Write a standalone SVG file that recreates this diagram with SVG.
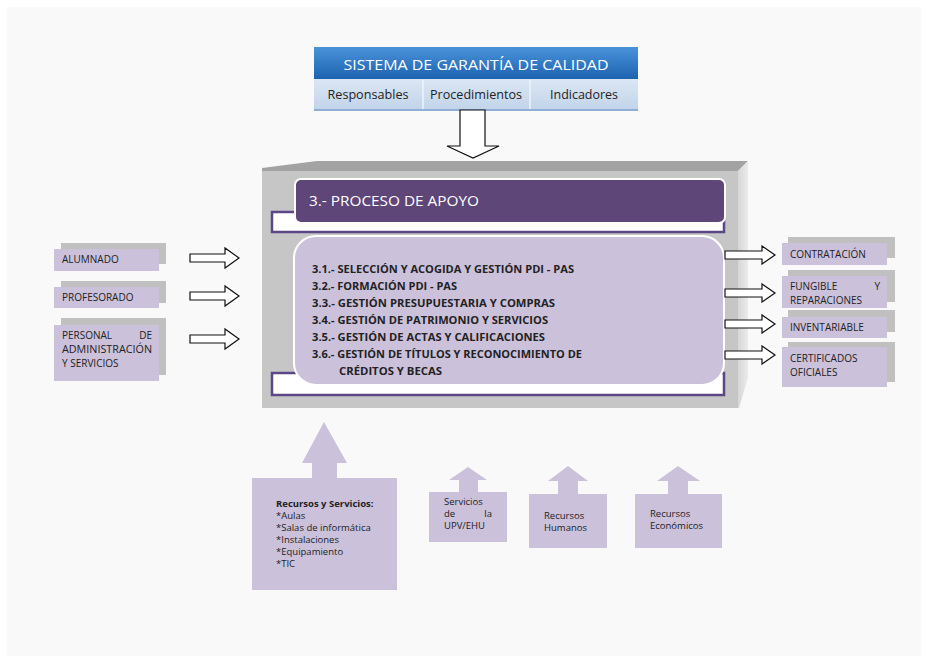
<svg xmlns="http://www.w3.org/2000/svg" width="927" height="662" viewBox="0 0 927 662">
<defs>
<linearGradient id="gTitle" x1="0" y1="0" x2="0" y2="1"><stop offset="0" stop-color="#4a93da"/><stop offset="1" stop-color="#1d63b0"/></linearGradient>
<linearGradient id="gSub" x1="0" y1="0" x2="0" y2="1"><stop offset="0" stop-color="#dbe6f3"/><stop offset="1" stop-color="#c2d4ea"/></linearGradient>
<linearGradient id="gRight" x1="0" y1="0" x2="1" y2="0"><stop offset="0" stop-color="#d6d6d6"/><stop offset="1" stop-color="#ececec"/></linearGradient>
<style>
.t{font-family:"Open Sans","Liberation Sans",sans-serif;fill:#222}
.b{font-weight:bold}
.lav{fill:#cbc1db}
.sh{fill:#c0c0c0}
.arr{fill:#fff;stroke:#111;stroke-width:1.2}
.up{fill:#cbc1db}
.brk{fill:#fff;stroke:#5b4785;stroke-width:2.5}
</style>
</defs>
<rect x="0" y="0" width="927" height="662" fill="#fff"/>
<rect x="7" y="7" width="914" height="649" fill="#f9f9f9"/>

<g id="sistema">
<rect x="314" y="49" width="324" height="62" fill="#8fb0d6" opacity="0.5"/>
<rect x="314" y="47" width="324" height="32" fill="url(#gTitle)"/>
<rect x="314" y="79" width="324" height="31" fill="url(#gSub)"/>
<line x1="314" y1="110" x2="638" y2="110" stroke="#7ea3cf" stroke-width="1.5"/>
<line x1="423" y1="80" x2="423" y2="109" stroke="#eef3f9" stroke-width="1.5"/>
<line x1="530" y1="80" x2="530" y2="109" stroke="#eef3f9" stroke-width="1.5"/>
<text class="t" x="476" y="70" text-anchor="middle" font-size="15" style="fill:#fff" textLength="265" lengthAdjust="spacingAndGlyphs">SISTEMA DE GARANTÍA DE CALIDAD</text>
<text class="t" x="368" y="99" text-anchor="middle" font-size="12" textLength="81" lengthAdjust="spacingAndGlyphs">Responsables</text>
<text class="t" x="476" y="99" text-anchor="middle" font-size="12" textLength="92" lengthAdjust="spacingAndGlyphs">Procedimientos</text>
<text class="t" x="584" y="99" text-anchor="middle" font-size="12" textLength="68" lengthAdjust="spacingAndGlyphs">Indicadores</text>
</g>

<g id="proceso">
<polygon points="262,171 262,168 317,161 748,161 738,171" fill="#a3a3a3"/>
<polygon points="738,171 748,161 748,378 739,408 738,408" fill="url(#gRight)"/>
<rect x="262" y="171" width="476" height="237" fill="#c6c6c6"/>
<rect class="brk" x="272" y="212" width="452" height="20"/>
<rect x="295" y="179" width="430" height="44" rx="6" fill="#5e4679" stroke="#fff" stroke-width="2"/>
<text class="t" x="309" y="206" font-size="15" style="fill:#fff" textLength="170" lengthAdjust="spacingAndGlyphs">3.- PROCESO DE APOYO</text>
<rect class="brk" x="272" y="373" width="452" height="22"/>
<rect x="294" y="236" width="430" height="149" rx="22" fill="#cbc1db" stroke="#fff" stroke-width="2"/>
<g class="t b" font-size="11">
<text x="312" y="273" textLength="262" lengthAdjust="spacingAndGlyphs">3.1.- SELECCIÓN Y ACOGIDA Y GESTIÓN PDI - PAS</text>
<text x="312" y="290" textLength="145" lengthAdjust="spacingAndGlyphs">3.2.- FORMACIÓN PDI - PAS</text>
<text x="312" y="307" textLength="243" lengthAdjust="spacingAndGlyphs">3.3.- GESTIÓN PRESUPUESTARIA Y COMPRAS</text>
<text x="312" y="324" textLength="236" lengthAdjust="spacingAndGlyphs">3.4.- GESTIÓN DE PATRIMONIO Y SERVICIOS</text>
<text x="312" y="341" textLength="233" lengthAdjust="spacingAndGlyphs">3.5.- GESTIÓN DE ACTAS Y CALIFICACIONES</text>
<text x="312" y="358" textLength="270" lengthAdjust="spacingAndGlyphs">3.6.- GESTIÓN DE TÍTULOS Y RECONOCIMIENTO DE</text>
<text x="339" y="375" textLength="103" lengthAdjust="spacingAndGlyphs">CRÉDITOS Y BECAS</text>
</g>
</g>

<g id="alumnado">
<rect class="sh" x="61" y="243" width="105" height="21"/>
<rect class="lav" x="54" y="249" width="105" height="22"/>
<text class="t" x="62" y="263" font-size="10">ALUMNADO</text>
</g>
<g id="profesorado">
<rect class="sh" x="61" y="281" width="105" height="22"/>
<rect class="lav" x="54" y="287" width="105" height="21"/>
<text class="t" x="62" y="301" font-size="10">PROFESORADO</text>
</g>
<g id="personal">
<rect class="sh" x="61" y="318" width="105" height="57"/>
<rect class="lav" x="54" y="325" width="105" height="56"/>
<text class="t" x="62" y="339" font-size="10">PERSONAL</text>
<text class="t" x="152" y="339" font-size="10" text-anchor="end">DE</text>
<text class="t" x="62" y="353" font-size="10" textLength="90" lengthAdjust="spacingAndGlyphs">ADMINISTRACIÓN</text>
<text class="t" x="62" y="367" font-size="10">Y SERVICIOS</text>
</g>

<g id="contratacion">
<rect class="sh" x="788" y="237" width="107" height="21"/>
<rect class="lav" x="782" y="243" width="105" height="22"/>
<text class="t" x="790" y="258" font-size="10">CONTRATACIÓN</text>
</g>
<g id="fungible">
<rect class="sh" x="788" y="270" width="107" height="32"/>
<rect class="lav" x="782" y="276" width="105" height="32"/>
<text class="t" x="790" y="290" font-size="10">FUNGIBLE</text>
<text class="t" x="880" y="290" font-size="10" text-anchor="end">Y</text>
<text class="t" x="790" y="304" font-size="10">REPARACIONES</text>
</g>
<g id="inventariable">
<rect class="sh" x="788" y="310" width="107" height="22"/>
<rect class="lav" x="782" y="317" width="105" height="21"/>
<text class="t" x="790" y="331" font-size="10">INVENTARIABLE</text>
</g>
<g id="certificados">
<rect class="sh" x="788" y="342" width="107" height="40"/>
<rect class="lav" x="782" y="347" width="105" height="40"/>
<text class="t" x="790" y="362" font-size="10">CERTIFICADOS</text>
<text class="t" x="790" y="376" font-size="10">OFICIALES</text>
</g>

<g id="recursos-servicios">
<polygon class="up" points="324,422 347,463 337,463 337,478 312,478 312,463 302,463"/>
<rect class="lav" x="252" y="478" width="145" height="112"/>
<text class="t b" x="276" y="507" font-size="9.5">Recursos y Servicios:</text>
<text class="t" x="276" y="519" font-size="9.5">*Aulas</text>
<text class="t" x="276" y="531" font-size="9.5">*Salas de informática</text>
<text class="t" x="276" y="543" font-size="9.5">*Instalaciones</text>
<text class="t" x="276" y="555" font-size="9.5">*Equipamiento</text>
<text class="t" x="276" y="567" font-size="9.5">*TIC</text>
</g>
<g id="servicios-upv">
<polygon class="up" points="468,467 487,480 478,480 478,492 459,492 459,480 449,480"/>
<rect class="lav" x="429" y="492" width="78" height="50"/>
<text class="t" x="444" y="505" font-size="9.5">Servicios</text>
<text class="t" x="444" y="517" font-size="9.5">de</text>
<text class="t" x="492" y="517" font-size="9.5" text-anchor="end">la</text>
<text class="t" x="444" y="529" font-size="9.5">UPV/EHU</text>
</g>
<g id="recursos-humanos">
<polygon class="up" points="568,466 588,481 578,481 578,494 558,494 558,481 548,481"/>
<rect class="lav" x="529" y="494" width="78" height="54"/>
<text class="t" x="544" y="519" font-size="9.5">Recursos</text>
<text class="t" x="544" y="531" font-size="9.5">Humanos</text>
</g>
<g id="recursos-economicos">
<polygon class="up" points="678,466 700,481 688,481 688,494 668,494 668,481 657,481"/>
<rect class="lav" x="635" y="494" width="87" height="54"/>
<text class="t" x="650" y="517" font-size="9.5">Recursos</text>
<text class="t" x="650" y="529" font-size="9.5">Económicos</text>
</g>

<g id="connectors">
<polygon class="arr" points="460,110 485,110 485,146 499,146 473,158 447,146 460,146"/>
<polygon class="arr" points="190,254 225,254 225,248 239,258 225,268 225,262 190,262"/>
<polygon class="arr" points="190,292 225,292 225,286 239,296 225,306 225,300 190,300"/>
<polygon class="arr" points="190,335 225,335 225,329 239,339 225,349 225,343 190,343"/>
<polygon class="arr" points="725,251 762,251 762,246 775,255 762,264 762,259 725,259"/>
<polygon class="arr" points="725,289 762,289 762,284 775,293 762,302 762,297 725,297"/>
<polygon class="arr" points="725,320 762,320 762,315 775,324 762,333 762,328 725,328"/>
<polygon class="arr" points="725,351 762,351 762,346 775,355 762,364 762,359 725,359"/>
</g>
</svg>
